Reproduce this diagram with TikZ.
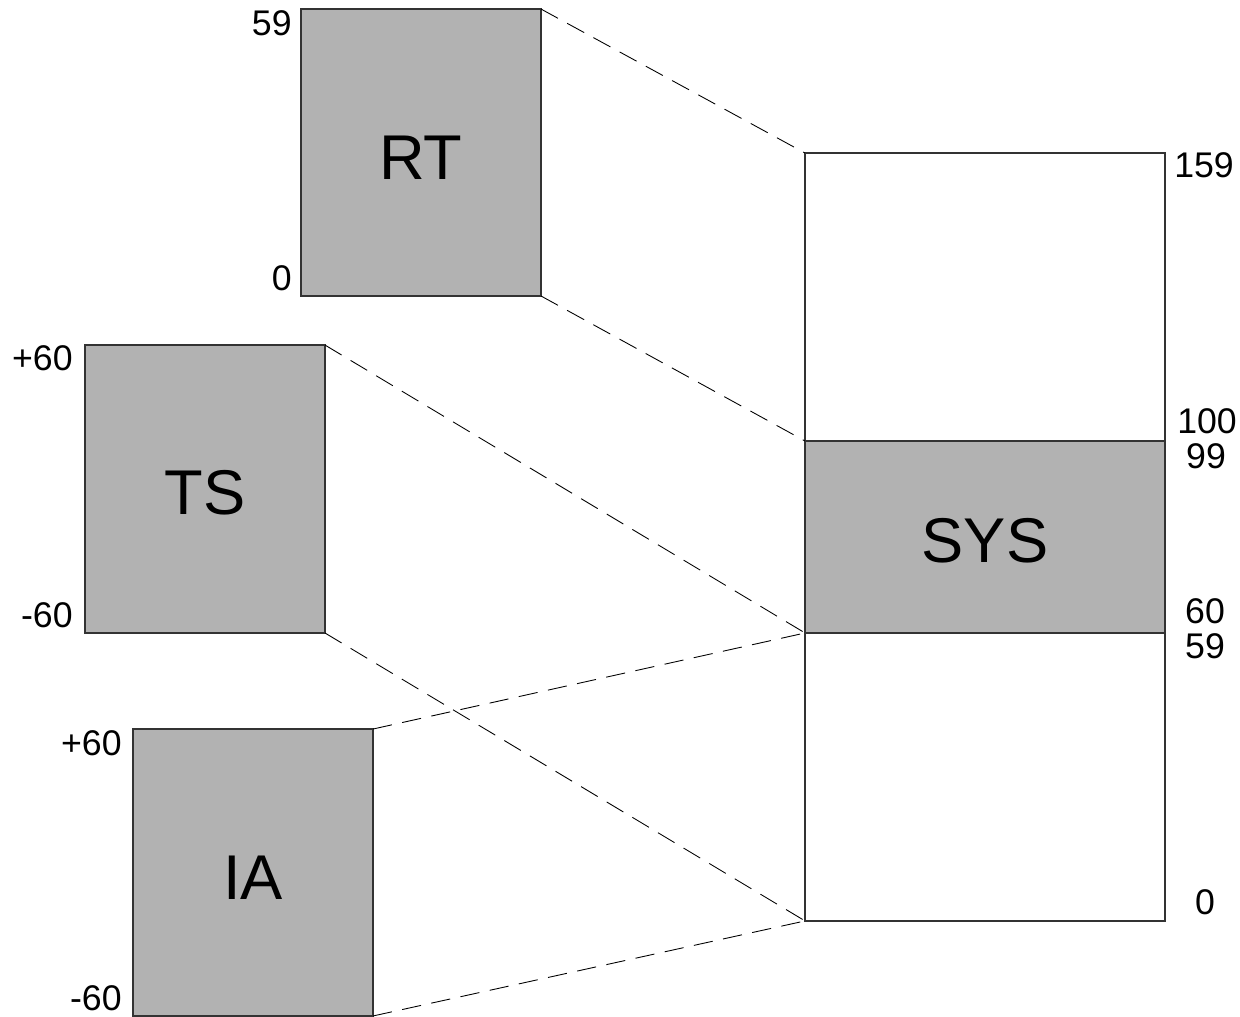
\documentclass[tikz,border=0pt]{standalone}
\usepackage{fontspec}
\setmainfont{Liberation Sans}
\begin{document}
\begin{tikzpicture}[x=0.02cm,y=-0.02cm,
  graybox/.style={draw=black!80,line width=0.8pt,fill=black!30,inner sep=0pt,outer sep=0pt,font=\fontsize{36}{40}\selectfont},
  colbox/.style={draw=black!80,line width=0.8pt,fill=white,inner sep=0pt,outer sep=0pt},
  lbl/.style={inner sep=0pt,font=\fontsize{20.3}{22}\selectfont},
  conn/.style={draw=black,line width=0.5pt,dash pattern=on 11pt off 6pt}]
\useasboundingbox (0,0) rectangle (1240,1017);
\node[graybox,minimum width=4.8cm,minimum height=5.74cm,text height=1.07cm,text depth=0cm] (rt) at (421,152.5) {RT};
\node[graybox,minimum width=4.8cm,minimum height=5.76cm,text height=1.0cm,text depth=0cm] (ts) at (205,489) {TS};
\node[graybox,minimum width=4.8cm,minimum height=5.74cm,text height=1.07cm,text depth=0cm] (ia) at (253,872.5) {IA};
\node[colbox,minimum width=7.2cm,minimum height=15.36cm] (sys) at (985,537) {};
\node[graybox,minimum width=7.2cm,minimum height=3.84cm,text height=1.03cm,text depth=0cm] (band) at (985,537) {SYS};
% labels
\node[lbl,anchor=east] (l59a) at (292,23) {59};
\node[lbl,anchor=east] (l0a) at (292,278) {0};
\node[lbl,anchor=east] (lp60a) at (73,358) {+60};
\node[lbl,anchor=east] (lm60a) at (73,615) {-60};
\node[lbl,anchor=east] (lp60b) at (122,743) {+60};
\node[lbl,anchor=east] (lm60b) at (122,998) {-60};
\node[lbl] (l159) at (1204,165) {159};
\node[lbl] (l100) at (1207,421) {100};
\node[lbl] (l99) at (1206,456) {99};
\node[lbl] (l60) at (1205,611) {60};
\node[lbl] (l59b) at (1205,646) {59};
\node[lbl] (l0b) at (1205,902) {0};
% connectors
\draw[conn] (rt.north east) -- (sys.north west);
\draw[conn] (rt.south east) -- (band.north west);
\draw[conn] (ts.north east) -- (band.south west);
\draw[conn] (ts.south east) -- (sys.south west);
\draw[conn] (ia.north east) -- (band.south west);
\draw[conn] (ia.south east) -- (sys.south west);
\end{tikzpicture}
\end{document}
